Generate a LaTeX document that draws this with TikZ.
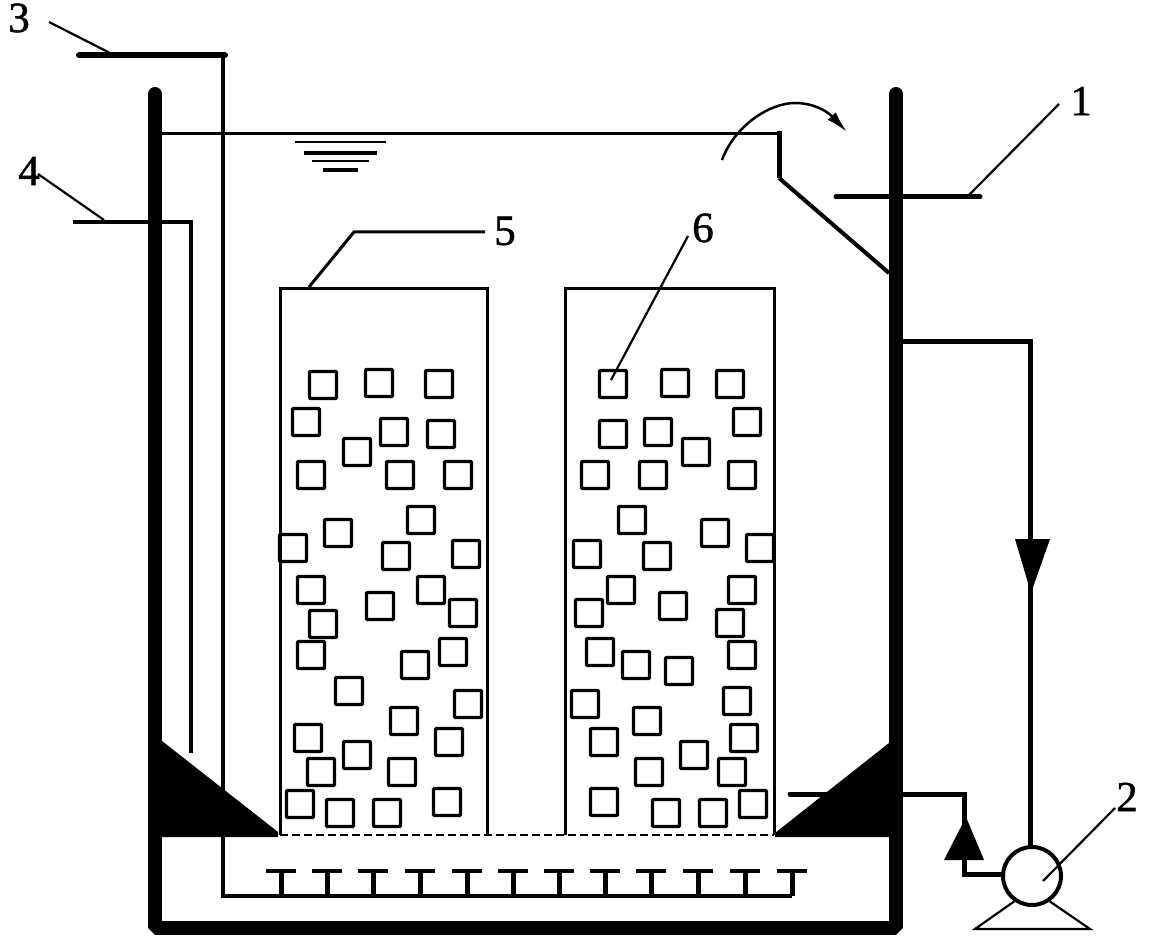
\documentclass[tikz,border=0pt]{standalone}
\usepackage{fontspec}
\setmainfont{Liberation Serif}
\newfontfamily\numfont[FakeBold=1.2]{Liberation Serif}
\usetikzlibrary{arrows.meta}
\begin{document}
\begin{tikzpicture}[x=1pt,y=-1pt]
\tikzstyle{wall} = [draw, line width=14pt, line join=bevel, line cap=round]
\tikzstyle{pipe} = [draw, line width=5pt, line join=miter]
\tikzstyle{thinpipe} = [draw, line width=4pt, line join=miter]
\tikzstyle{leader} = [draw, line width=2.2pt]
\tikzstyle{tower} = [draw, line width=3pt]
\tikzstyle{cube} = [draw, line width=3.4pt, inner sep=0, minimum size=27pt, rounded corners=1pt]
\tikzstyle{num} = [inner sep=0, font=\numfont\fontsize{43}{43}\selectfont]
\useasboundingbox (0,0) rectangle (1149,936);

\draw [wall] (155,94) -- (155,927.5) -- (896,927.5) -- (896,94);
% sloped bottom
\fill (162,741) -- (278,832) -- (278,837) -- (162,837) -- cycle;
\fill (889,743) -- (775,833) -- (775,837) -- (889,837) -- cycle;
\draw [tower] (280,835) |- (487,288) -- (487,835);
\draw [tower] (565,835) |- (774,288) -- (774,835);
\draw [line width=2.5pt, dash pattern=on 8pt off 4pt] (280,835) -- (774,835);

% media
\foreach \x/\y [count=\i] in {323/385,379/383,439/384,306/422,394/432,441/434,357/452,311/475,400/475,458/475,
	421/520,338/533,293/548,396/556,466/554,311/590,431/590,380/606,463/613,323/624,
	311/655,453/652,415/665,349/691,468/704,404/721,308/738,449/742,357/755,321/772,
	402/772,300/804,447/802,340/813,387/813}
{
	\node [cube] (a\i) at (\x,\y) {};
}
\foreach \x/\y [count=\i] in {613/384,675/383,730/384,747/422,613/434,658/432,696/452,595/475,653/475,742/475,
	632/520,715/533,587/554,657/556,760/548,621/590,742/590,589/613,673/606,730/623,
	600/652,636/665,679/671,742/655,585/704,737/701,647/721,604/742,744/738,694/755,
	649/772,732/772,604/802,753/804,666/813,713/813}
{
	\node [cube] (b\i) at (\x,\y) {};
}

% water
\draw [line width=3.5pt] (160,133.5) -- (779,133.5);
\draw [pipe] (779,131.5) -- (779,178);
\draw [thinpipe] (779,178) -- (889,273);
\draw [line width=2.5pt] (295,142) -- (386,142);
\draw [line width=3.5pt] (304,153) -- (377,153);
\draw [line width=2.5pt] (312,161) -- (369,161);
\draw [line width=3.5pt] (323,170) -- (358,170);
\draw [line width=2.5pt, -{Latex[length=22pt,width=11pt]}] (722,160) .. controls (735,125) and (770,103) .. (795,103) .. controls (812,103) and (826,110) .. (847,132);

% inlet 3 and diffusers
\draw [thinpipe] (223,55) -- (223,896) -- (792,896);
\draw [line width=6pt, line cap=round] (79,55.5) -- (225,55.5);
\foreach \x in {281,327,373,420,467,513,559,605,651,698,745,792}
{
	\draw [line width=4pt] (\x-15,871) -- (\x+15,871);
	\draw [line width=5pt] (\x,871) -- (\x,896);
}
% inlet 4
\draw [thinpipe] (73,222) -- (191,222) -- (191,753);
% outlet 1
\draw [pipe, line cap=round] (836,197) -- (980,197);

% pump loop
\node [draw, circle, line width=4pt, inner sep=0, minimum size=58pt] (pump) at (1032,876) {};
\coordinate (suck) at (790,794);
\coordinate (ret) at (903,341);
\coordinate (top) at (1030.5,847);
\draw [pipe, line cap=round] (suck) -| (964,874) -- (pump.west |- 0,874);
\draw [pipe] (ret) -| (top);
\fill (966,817) -- (944,860) -- (984,860) -- cycle;
\fill (1015,539) -- (1050,539) -- (1031,593) -- cycle;
\draw [leader, line join=miter] (pump.-125) -- (975,929) -- (1090,929) -- (pump.-55);

% labels
\node [num] (n1) at (1081,101) {1};
\node [num] (n2) at (1127,797) {2};
\node [num] (n3) at (19,18) {3};
\node [num] (n4) at (29,171) {4};
\node [num] (n5) at (505,231) {5};
\node [num] (n6) at (703,228) {6};
\coordinate (e1) at (968,196);
\coordinate (e2) at (1043,881);
\coordinate (e3) at (110,53);
\coordinate (e4) at (104,220);
\coordinate (e5) at (309,287);
\coordinate (e6) at (611,380);
\draw [leader] (e1) -- (1059,104);
\draw [leader] (e2) -- (1115,808);
\draw [leader] (e3) -- (49,22);
\draw [leader] (e4) -- (38,174);
\draw [leader, line width=3pt] (e5) -- (354,232) -- (485,232);
\draw [leader] (e6) -- (688,236);
\end{tikzpicture}
\end{document}
